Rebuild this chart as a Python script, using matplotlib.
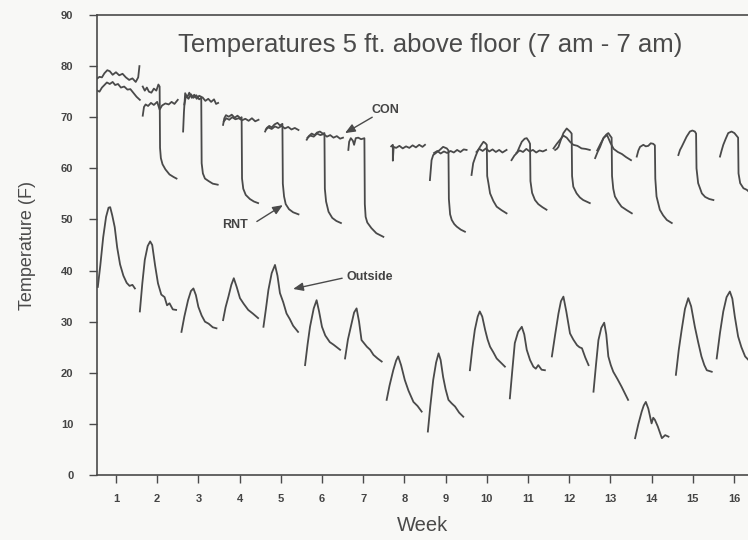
import matplotlib
matplotlib.use("Agg")
import matplotlib.pyplot as plt

# --- Data ---
# One list per 24 h trace (7 am - 7 am), x in weeks, y in deg F
OUTSIDE_WEEKS = [
    [0.56, 0.62, 0.69, 0.76, 0.82, 0.86, 0.91, 0.97, 1.03, 1.10, 1.18, 1.26, 1.33, 1.40, 1.46],
    [1.58, 1.64, 1.70, 1.77, 1.83, 1.88, 1.95, 2.02, 2.10, 2.18, 2.24, 2.30, 2.38, 2.46],
    [2.59, 2.66, 2.75, 2.82, 2.88, 2.94, 3.00, 3.08, 3.16, 3.25, 3.35, 3.44],
    [3.60, 3.66, 3.73, 3.80, 3.86, 3.93, 4.01, 4.10, 4.21, 4.32, 4.45],
    [4.58, 4.64, 4.70, 4.78, 4.86, 4.92, 4.98, 5.06, 5.14, 5.22, 5.30, 5.42],
    [5.59, 5.65, 5.71, 5.80, 5.87, 5.93, 6.00, 6.08, 6.19, 6.28, 6.36, 6.44],
    [6.56, 6.63, 6.72, 6.78, 6.84, 6.90, 6.96, 7.02, 7.09, 7.17, 7.25, 7.35, 7.45],
    [7.57, 7.64, 7.73, 7.80, 7.85, 7.92, 8.01, 8.10, 8.22, 8.32, 8.42],
    [8.57, 8.63, 8.70, 8.77, 8.83, 8.88, 8.94, 9.00, 9.07, 9.15, 9.23, 9.33, 9.43],
    [9.59, 9.65, 9.71, 9.78, 9.83, 9.89, 9.96, 10.02, 10.08, 10.16, 10.24, 10.34, 10.44],
    [10.56, 10.62, 10.68, 10.76, 10.85, 10.91, 10.97, 11.05, 11.13, 11.19, 11.25, 11.33, 11.41],
    [11.58, 11.66, 11.74, 11.80, 11.86, 11.93, 12.02, 12.10, 12.19, 12.25, 12.31, 12.39, 12.47],
    [12.59, 12.65, 12.71, 12.78, 12.85, 12.90, 12.95, 13.01, 13.07, 13.17, 13.27, 13.35, 13.43],
    [13.60, 13.68, 13.76, 13.81, 13.86, 13.92, 14.00, 14.04, 14.08, 14.15, 14.25, 14.33, 14.41],
    [14.59, 14.66, 14.73, 14.81, 14.89, 14.96, 15.05, 15.13, 15.21, 15.28, 15.34, 15.46],
    [15.58, 15.66, 15.74, 15.82, 15.90, 15.96, 16.02, 16.10, 16.18, 16.27, 16.34],
]
OUTSIDE_TEMPS = [
    [36.8, 41.0, 46.5, 50.5, 52.3, 52.4, 50.8, 48.5, 44.5, 41.2, 39.0, 37.6, 37.0, 37.2, 36.5],
    [32.0, 37.5, 42.1, 44.8, 45.7, 45.0, 41.0, 37.5, 35.3, 34.8, 33.2, 33.6, 32.4, 32.3],
    [28.0, 31.0, 34.2, 36.0, 36.5, 35.2, 32.9, 31.2, 30.0, 29.6, 28.9, 28.7],
    [30.3, 32.8, 34.9, 37.2, 38.5, 36.8, 34.6, 33.5, 32.3, 31.6, 30.7],
    [29.0, 32.5, 36.2, 39.5, 41.1, 39.0, 35.6, 33.8, 31.6, 30.5, 29.2, 28.0],
    [21.5, 25.5, 29.0, 32.6, 34.2, 32.0, 29.0, 27.3, 26.0, 25.5, 25.0, 24.5],
    [22.8, 26.5, 29.7, 31.8, 32.6, 30.0, 26.4, 25.8, 25.1, 24.5, 23.5, 22.8, 22.2],
    [14.7, 17.5, 20.5, 22.4, 23.2, 21.5, 18.6, 16.5, 14.3, 13.5, 12.4],
    [8.5, 13.5, 18.6, 22.0, 23.8, 22.5, 19.2, 16.8, 14.7, 14.0, 13.4, 12.2, 11.4],
    [20.5, 24.8, 28.4, 31.0, 32.0, 31.0, 28.4, 26.5, 25.1, 24.0, 22.8, 22.0, 21.2],
    [15.0, 20.5, 25.8, 28.0, 29.0, 27.5, 24.5, 22.5, 21.2, 20.8, 21.5, 20.6, 20.5],
    [23.2, 27.5, 31.6, 34.0, 34.9, 32.0, 27.7, 26.5, 25.4, 25.0, 24.8, 23.0, 21.5],
    [16.3, 21.5, 26.4, 28.8, 29.8, 27.5, 23.2, 21.5, 20.2, 18.8, 17.3, 16.0, 14.7],
    [7.2, 10.0, 12.4, 13.6, 14.3, 13.0, 10.1, 11.2, 10.8, 9.5, 7.2, 7.8, 7.5],
    [19.6, 24.5, 28.4, 32.5, 34.6, 33.0, 29.0, 26.0, 23.2, 21.5, 20.5, 20.2],
    [22.8, 27.8, 32.0, 34.8, 35.9, 34.5, 31.0, 27.1, 25.0, 23.2, 22.6],
]

# RNT room: heat cut in the evening -> the sharp drops
RNT_WEEKS = [
    [0.55, 0.60, 0.66, 0.72, 0.79, 0.85, 0.92, 1.00, 1.08, 1.16, 1.24, 1.32, 1.40, 1.48, 1.54, 1.57],
    [1.65, 1.70, 1.75, 1.80, 1.86, 1.92, 1.98, 2.03, 2.06, 2.07, 2.09, 2.13, 2.20, 2.30, 2.40, 2.47],
    [2.63, 2.65, 2.68, 2.73, 2.78, 2.84, 2.90, 2.96, 3.02, 3.07, 3.08, 3.11, 3.16, 3.25, 3.35, 3.47],
    [3.60, 3.63, 3.67, 3.74, 3.81, 3.88, 3.95, 4.02, 4.05, 4.06, 4.09, 4.15, 4.25, 4.35, 4.45],
    [4.62, 4.66, 4.72, 4.78, 4.85, 4.92, 4.98, 5.04, 5.05, 5.08, 5.12, 5.20, 5.30, 5.43],
    [5.63, 5.68, 5.75, 5.82, 5.88, 5.95, 6.02, 6.06, 6.07, 6.10, 6.16, 6.25, 6.35, 6.46],
    [6.64, 6.66, 6.70, 6.75, 6.78, 6.82, 6.88, 6.95, 7.03, 7.04, 7.06, 7.10, 7.20, 7.32, 7.49],
    [8.62, 8.66, 8.70, 8.78, 8.86, 8.94, 9.03, 9.07, 9.08, 9.11, 9.15, 9.21, 9.27, 9.37, 9.47],
    [9.63, 9.67, 9.73, 9.79, 9.86, 9.92, 9.97, 10.00, 10.01, 10.04, 10.08, 10.16, 10.24, 10.36, 10.48],
    [10.60, 10.67, 10.73, 10.80, 10.85, 10.92, 10.97, 11.02, 11.05, 11.06, 11.10, 11.17, 11.25, 11.35, 11.45],
    [11.66, 11.70, 11.74, 11.80, 11.86, 11.94, 12.02, 12.06, 12.07, 12.10, 12.18, 12.26, 12.34, 12.42, 12.50],
    [12.63, 12.69, 12.75, 12.83, 12.90, 12.95, 13.01, 13.03, 13.04, 13.07, 13.11, 13.19, 13.27, 13.40, 13.52],
    [13.64, 13.68, 13.72, 13.80, 13.86, 13.92, 13.98, 14.04, 14.08, 14.09, 14.12, 14.20, 14.28, 14.37, 14.49],
    [14.65, 14.69, 14.73, 14.79, 14.85, 14.93, 14.99, 15.05, 15.08, 15.09, 15.13, 15.22, 15.30, 15.40, 15.50],
    [15.66, 15.70, 15.74, 15.80, 15.86, 15.94, 16.01, 16.07, 16.10, 16.11, 16.15, 16.23, 16.31, 16.38],
]
RNT_TEMPS = [
    [77.6, 77.9, 77.8, 78.6, 79.2, 79.0, 78.3, 78.8, 78.2, 78.5, 77.8, 77.3, 77.6, 76.9, 77.8, 80.0],
    [76.0, 75.2, 75.8, 75.0, 74.8, 75.6, 75.2, 76.4, 76.0, 64.0, 62.0, 60.8, 59.8, 58.8, 58.3, 58.0],
    [67.2, 71.0, 74.7, 73.9, 74.8, 73.8, 74.4, 73.6, 74.2, 74.0, 61.0, 59.0, 58.0, 57.5, 57.0, 56.8],
    [68.5, 69.8, 70.4, 70.1, 70.5, 69.9, 70.3, 69.8, 70.0, 58.0, 56.0, 54.8, 54.0, 53.5, 53.2],
    [67.2, 67.9, 68.3, 68.0, 68.6, 68.9, 68.4, 68.7, 57.0, 54.5, 53.0, 52.0, 51.4, 51.0],
    [65.6, 66.3, 66.8, 66.5, 67.0, 67.2, 66.8, 66.9, 56.0, 53.5, 51.5, 50.3, 49.7, 49.3],
    [63.6, 65.2, 65.9, 65.4, 64.6, 65.9, 66.0, 65.7, 65.9, 53.0, 50.5, 49.4, 48.3, 47.3, 46.6],
    [57.7, 61.6, 62.6, 63.1, 63.6, 64.2, 63.9, 63.5, 54.0, 51.0, 49.9, 49.1, 48.6, 48.0, 47.6],
    [58.7, 61.0, 62.4, 63.6, 64.5, 65.2, 64.9, 64.6, 58.5, 57.1, 55.1, 53.6, 52.5, 51.8, 51.2],
    [61.6, 62.5, 63.0, 64.3, 65.2, 65.8, 65.9, 65.3, 64.8, 57.5, 55.2, 53.8, 53.0, 52.4, 51.9],
    [63.6, 63.8, 64.2, 65.6, 66.9, 67.8, 67.2, 66.8, 58.5, 56.4, 55.1, 54.3, 53.8, 53.5, 53.2],
    [62.0, 63.2, 64.2, 65.9, 66.6, 66.9, 66.2, 66.0, 58.5, 56.0, 54.5, 53.4, 52.5, 51.8, 51.2],
    [62.3, 63.5, 64.2, 64.6, 64.3, 64.4, 64.9, 64.8, 64.5, 58.0, 54.5, 51.9, 50.8, 49.9, 49.3],
    [62.6, 63.6, 64.2, 65.2, 66.2, 67.2, 67.4, 67.2, 66.8, 60.0, 57.1, 55.1, 54.4, 54.0, 53.8],
    [62.3, 63.5, 64.6, 65.8, 66.9, 67.2, 66.9, 66.3, 66.0, 59.0, 57.1, 56.1, 55.8, 55.3],
]

# CON room: heated around the clock
CON_WEEKS = [
    [0.55, 0.60, 0.66, 0.72, 0.78, 0.85, 0.92, 0.98, 1.05, 1.12, 1.20, 1.28, 1.35, 1.42, 1.50, 1.58],
    [1.65, 1.68, 1.72, 1.78, 1.85, 1.92, 2.00, 2.06, 2.12, 2.20, 2.28, 2.35, 2.42, 2.50],
    [2.66, 2.70, 2.76, 2.82, 2.88, 2.95, 3.02, 3.10, 3.17, 3.24, 3.31, 3.38, 3.43, 3.48],
    [3.62, 3.68, 3.75, 3.82, 3.90, 3.98, 4.06, 4.14, 4.22, 4.30, 4.38, 4.46],
    [4.64, 4.70, 4.78, 4.86, 4.94, 5.02, 5.10, 5.18, 5.26, 5.34, 5.43],
    [5.65, 5.72, 5.80, 5.88, 5.96, 6.04, 6.12, 6.20, 6.28, 6.36, 6.44, 6.51],
    [7.68, 7.72, 7.72, 7.74, 7.80, 7.88, 7.96, 8.04, 8.12, 8.20, 8.28, 8.36, 8.44, 8.50],
    [8.72, 8.80, 8.88, 8.96, 9.04, 9.12, 9.20, 9.28, 9.36, 9.44, 9.51],
    [9.75, 9.82, 9.90, 9.98, 10.06, 10.14, 10.22, 10.30, 10.38, 10.48],
    [10.72, 10.80, 10.88, 10.96, 11.04, 11.12, 11.20, 11.28, 11.36, 11.44],
    [11.62, 11.70, 11.78, 11.86, 11.94, 12.02, 12.10, 12.20, 12.30, 12.40, 12.50],
    [12.68, 12.76, 12.84, 12.92, 13.00, 13.08, 13.18, 13.28, 13.38, 13.50],
]
CON_TEMPS = [
    [75.2, 75.0, 75.8, 76.3, 76.8, 76.5, 76.9, 76.3, 76.5, 75.8, 76.0, 75.4, 75.5, 74.8, 74.0, 73.4],
    [70.3, 72.0, 72.5, 72.2, 72.8, 72.4, 73.0, 71.5, 72.3, 72.7, 72.5, 73.0, 72.6, 73.4],
    [72.5, 74.2, 73.6, 74.5, 73.8, 74.3, 73.5, 73.9, 73.2, 73.6, 73.0, 73.5, 72.6, 72.8],
    [69.2, 69.8, 69.5, 70.0, 69.6, 69.8, 69.4, 69.7, 69.3, 69.8, 69.2, 69.5],
    [67.6, 68.0, 67.7, 68.2, 67.9, 68.3, 67.8, 68.1, 67.6, 67.9, 67.5],
    [66.0, 66.4, 66.2, 66.8, 66.5, 66.7, 66.2, 66.5, 66.0, 66.3, 65.8, 66.0],
    [64.3, 64.6, 61.5, 64.2, 64.0, 64.4, 63.9, 64.3, 64.0, 64.5, 64.1, 64.6, 64.2, 64.6],
    [63.0, 63.4, 62.9, 63.3, 63.0, 63.4, 63.1, 63.6, 63.2, 63.7, 63.6],
    [63.2, 63.8, 63.4, 63.9, 63.3, 63.7, 63.2, 63.6, 63.1, 63.6],
    [63.0, 63.5, 63.2, 63.8, 63.3, 63.6, 63.1, 63.5, 63.3, 63.6],
    [63.9, 64.8, 65.6, 66.4, 66.0, 65.2, 64.6, 64.4, 63.9, 63.8, 63.6],
    [63.5, 64.8, 66.0, 66.5, 65.0, 63.8, 63.2, 62.8, 62.2, 61.6],
]

WEEK_TICKS = list(range(1, 17))
TEMP_TICKS = list(range(0, 91, 10))

# label text position, arrow tail, arrow tip (week, deg F)
LABELS = {
    "CON": ((7.55, 71.4), (7.22, 70.0), (6.56, 66.9)),
    "RNT": ((3.89, 48.9), (4.42, 49.6), (5.05, 52.8)),
    "Outside": ((7.17, 38.7), (6.49, 38.5), (5.30, 36.4)),
}

INK = "#4a4a4a"
PAPER = "#f8f8f6"

plt.rcParams["font.family"] = ["Liberation Sans", "DejaVu Sans"]

fig = plt.figure(figsize=(7.48, 5.40), dpi=100, facecolor=PAPER)
ax = fig.add_axes([97 / 748, 1 - 475 / 540, 1 - 97 / 748, (475 - 15) / 540])
ax.set_facecolor(PAPER)

for weeks_list, temps_list in [(OUTSIDE_WEEKS, OUTSIDE_TEMPS),
                               (RNT_WEEKS, RNT_TEMPS),
                               (CON_WEEKS, CON_TEMPS)]:
    for wk, tp in zip(weeks_list, temps_list):
        ax.plot(wk, tp, color=INK, lw=1.3, solid_joinstyle="round")

for name, (txt, tail, tip) in LABELS.items():
    ax.text(txt[0], txt[1], name, ha="center", va="center",
            fontsize=9, fontweight="bold", color="#444444")
    ax.annotate("", xy=tip, xytext=tail,
                arrowprops=dict(arrowstyle="-|>,head_length=0.6,head_width=0.25",
                                color=INK, lw=1.0, shrinkA=0, shrinkB=0))

ax.text(0.512, 0.935, "Temperatures 5 ft. above floor (7 am - 7 am)",
        transform=ax.transAxes, ha="center", va="center",
        fontsize=18.5, color="#4a4a4a")

ax.set_xlim(0.54, 16.34)
ax.set_ylim(0, 90)
ax.set_xticks(WEEK_TICKS)
ax.set_yticks(TEMP_TICKS)
ax.tick_params(direction="out", length=6, width=1.0, color=INK,
               labelsize=8, labelcolor="#444444")
ax.tick_params(axis="x", pad=8)
ax.tick_params(axis="y", pad=11)
for lab in ax.get_xticklabels() + ax.get_yticklabels():
    lab.set_fontweight("bold")
ax.spines["right"].set_visible(False)
for s in ["left", "bottom", "top"]:
    ax.spines[s].set_color(INK)
    ax.spines[s].set_linewidth(1.2)

ax.set_xlabel("Week", fontsize=14.5, color="#4a4a4a", labelpad=8)
ax.set_ylabel("Temperature (F)", fontsize=13, color="#4a4a4a", labelpad=18)

fig.savefig("out.png", dpi=100, facecolor=PAPER)
